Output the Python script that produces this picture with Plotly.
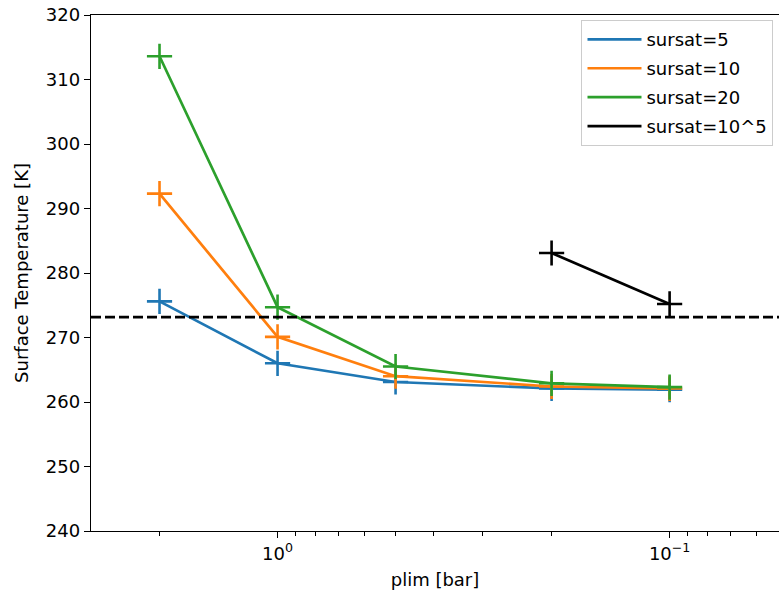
import plotly.graph_objects as go

plim = [2, 1, 0.5, 0.2, 0.1]
t_sursat5 = [275.6, 266.0, 263.1, 262.1, 261.9]
t_sursat10 = [292.3, 270.1, 264.0, 262.4, 262.1]
t_sursat20 = [313.6, 274.7, 265.5, 262.9, 262.3]
plim_1e5 = [0.2, 0.1]
t_sursat1e5 = [283.1, 275.2]
freezing = 273.15

series = [
    ("sursat=5", plim, t_sursat5, "#1f77b4"),
    ("sursat=10", plim, t_sursat10, "#ff7f0e"),
    ("sursat=20", plim, t_sursat20, "#2ca02c"),
    ("sursat=10^5", plim_1e5, t_sursat1e5, "#000000"),
]

fig = go.Figure()
for i, (name, xs, ys, col) in enumerate(series):
    fig.add_trace(go.Scatter(x=xs, y=ys, mode="lines", name=name, legendgroup=f"g{i}",
                             line=dict(color=col, width=2.7)))
    fig.add_trace(go.Scatter(x=xs, y=ys, mode="markers", showlegend=False, legendgroup=f"g{i}",
                             marker=dict(symbol="cross-thin", size=18,
                                         line=dict(color=col, width=2.6))))

fig.add_shape(type="line", xref="paper", x0=0, x1=1, yref="y", y0=freezing, y1=freezing,
              line=dict(color="black", width=2.7, dash="10px,4px"))

font = dict(family="DejaVu Sans", size=18, color="black")
minor_vals = [3, 2, 0.9, 0.8, 0.7, 0.6, 0.5, 0.4, 0.3, 0.2, 0.09, 0.08, 0.07, 0.06]

fig.update_layout(
    width=779, height=603,
    margin=dict(l=91, r=0, t=15, b=72, autoexpand=False),
    paper_bgcolor="white", plot_bgcolor="white",
    font=font,
    showlegend=True,
    legend=dict(x=0.992, y=0.99, xanchor="right", yanchor="top",
                bordercolor="#cccccc", borderwidth=1, bgcolor="rgba(255,255,255,0.8)",
                font=dict(family="DejaVu Sans", size=18, color="black"),
                tracegroupgap=2.5, itemwidth=54),
    xaxis=dict(type="log", range=[0.4758, -1.279], automargin=False,
               tickmode="array", tickvals=[1, 0.1],
               ticktext=["10<sup>0</sup>", "10<sup>\u22121</sup>"],
               ticks="outside", ticklen=6, tickwidth=1.4, tickcolor="black",
               minor=dict(tickmode="array", tickvals=minor_vals, ticks="outside",
                          ticklen=3.6, tickwidth=1, tickcolor="black", showgrid=False),
               showline=True, linecolor="black", linewidth=1.4, mirror=True,
               showgrid=False, zeroline=False,
               title=dict(text="plim [bar]", font=font, standoff=10)),
    yaxis=dict(range=[240, 320], tickmode="array", automargin=False,
               tickvals=[240, 250, 260, 270, 280, 290, 300, 310, 320],
               ticks="outside", ticklen=6, tickwidth=1.4, tickcolor="black",
               showline=True, linecolor="black", linewidth=1.4, mirror=False,
               showgrid=False, zeroline=False,
               title=dict(text="Surface Temperature [K]", font=font, standoff=12)),
)

fig.write_html("out.html", config={"displayModeBar": False},
               post_script="document.body.style.margin='0';")
